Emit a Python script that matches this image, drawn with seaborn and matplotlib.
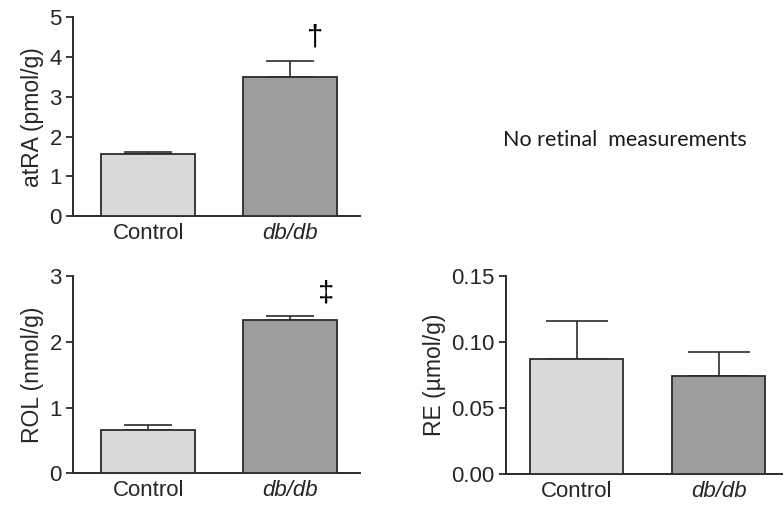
import matplotlib.pyplot as plt
import seaborn as sns
import numpy as np

# Data
groups = ['Control', 'db/db']
atra_mean = [1.55, 3.50]
atra_err = [0.07, 0.40]
rol_mean = [0.66, 2.34]
rol_err = [0.07, 0.06]
re_mean = [0.087, 0.074]
re_err = [0.029, 0.018]

bar_colors = ['#d9d9d9', '#9c9ca0']
edge = '#2b2b2b'

sns.set_style('ticks')
plt.rcParams['font.family'] = ['Liberation Sans', 'DejaVu Sans']

fig = plt.figure(figsize=(7.84, 5.05), dpi=100)
ax1 = fig.add_axes([0.093, 0.572, 0.366, 0.394])
ax2 = fig.add_axes([0.093, 0.063, 0.366, 0.390])
ax3 = fig.add_axes([0.645, 0.062, 0.353, 0.392])


def draw_panel(ax, means, errs, ylabel, ylim, ticks, capsize, xlim, fmt=None):
    sns.barplot(x=groups, y=means, hue=groups, palette=bar_colors, legend=False,
                edgecolor=edge, linewidth=1.3, width=0.66, ax=ax, zorder=3)
    x = np.arange(len(groups))
    ax.errorbar(x, means, yerr=[np.zeros(len(errs)), errs], fmt='none',
                ecolor=edge, elinewidth=1.2, capsize=capsize, capthick=1.2, zorder=2)
    ax.set_ylim(*ylim)
    ax.set_xlim(*xlim)
    ax.set_yticks(ticks)
    if fmt:
        ax.set_yticklabels([fmt % t for t in ticks])
    ax.set_ylabel(ylabel, fontsize=16.5, labelpad=4)
    ax.tick_params(axis='y', labelsize=16, length=5, width=1.3, color=edge, pad=3)
    ax.tick_params(axis='x', labelsize=16, length=0, pad=5)
    labels = ax.get_xticklabels()
    labels[1].set_style('italic')
    for s in ['top', 'right']:
        ax.spines[s].set_visible(False)
    for s in ['left', 'bottom']:
        ax.spines[s].set_linewidth(1.4)
        ax.spines[s].set_color(edge)


draw_panel(ax1, atra_mean, atra_err, 'atRA (pmol/g)', (0, 5), [0, 1, 2, 3, 4, 5], 17, (-0.53, 1.49))
draw_panel(ax2, rol_mean, rol_err, 'ROL (nmol/g)', (0, 3), [0, 1, 2, 3], 17, (-0.53, 1.49))
draw_panel(ax3, re_mean, re_err, 'RE (\u00b5mol/g)', (0, 0.15), [0, 0.05, 0.10, 0.15], 22,
           (-0.50, 1.45), fmt='%.2f')

# significance marks
ax1.text(1.17, 4.5, '\u2020', fontsize=21, ha='center', va='center', color='black')
ax2.text(1.25, 2.74, '\u2021', fontsize=21, ha='center', va='center', color='black')

fig.text(0.797, 0.722, 'No retinal  measurements', fontsize=15.5, ha='center', va='center',
         family=['Lato', 'DejaVu Sans'], color='#1a1a1a')

fig.savefig('out.png', dpi=100)
